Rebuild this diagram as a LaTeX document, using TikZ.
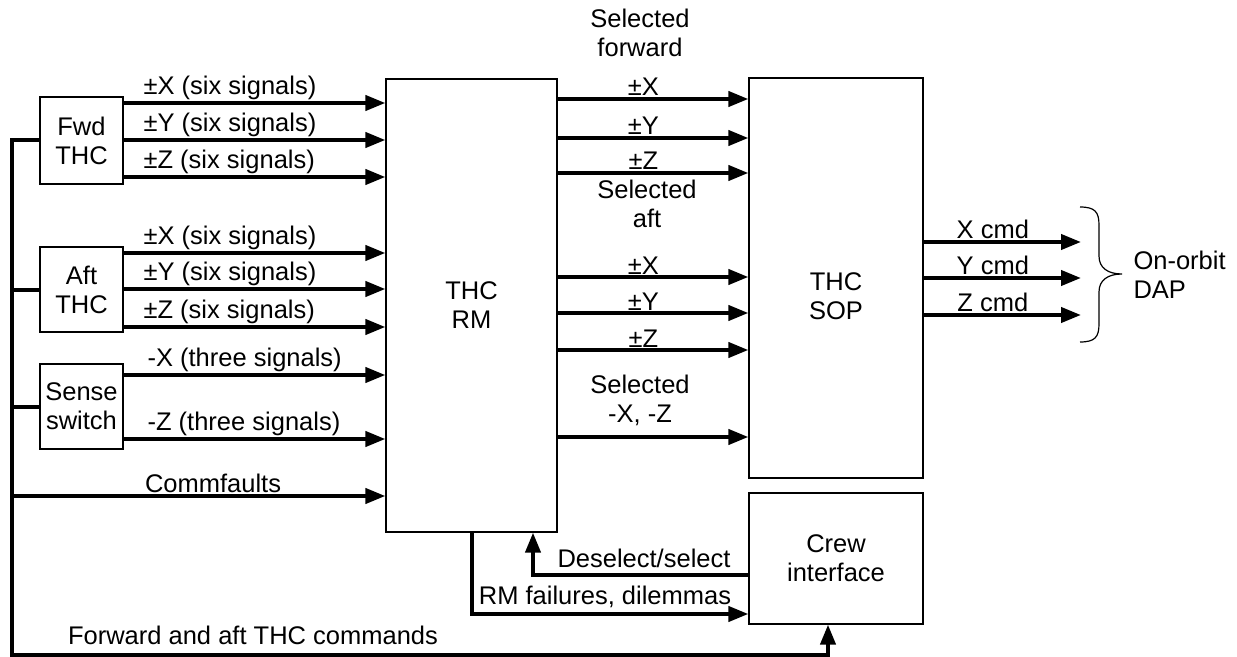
\documentclass[tikz,border=0pt]{standalone}
\usepackage{fontspec}
\setmainfont{Liberation Sans}
\usetikzlibrary{arrows.meta}
\tikzset{
  box/.style={draw, line width=1.2bp, inner sep=0pt, align=center},
  sig/.style={line width=4bp, -{Triangle[length=20bp,width=15bp]}},
  wire/.style={line width=4bp},
  lbl/.style={anchor=south west, inner sep=1bp},
  mid/.style={above, inner sep=1bp},
}
\begin{document}
\begin{tikzpicture}[x=1bp, y=-1bp, font=\fontsize{25.5bp}{29bp}\selectfont]
    \useasboundingbox (0,0) rectangle (1237,657);

    % boxes
    \node[box, minimum width=83bp, minimum height=87bp] (fwd) at (81.5,140.5) {Fwd\\THC};
    \node[box, minimum width=83bp, minimum height=85bp] (aft) at (81.5,289.5) {Aft\\THC};
    \node[box, minimum width=83bp, minimum height=85bp] (sense) at (81.5,406.5) {Sense\\switch};
    \node[box, minimum width=171bp, minimum height=453bp] (rm) at (471.5,305.5) {THC\\RM};
    \node[box, minimum width=174bp, minimum height=400bp] (sop) at (836,278) {};
    \node[align=center] (soptxt) at (836,296) {THC\\SOP};
    \node[box, minimum width=174bp, minimum height=131bp] (crew) at (836,558.5) {Crew\\interface};

    \coordinate (busbot) at (12,655);
    \coordinate (dapin) at (1081,278);

    % controller bus
    \draw[sig] (fwd.west) -| (busbot) -| ([xshift=-8bp]crew.south);
    \draw[wire] (aft.west) -- (aft.west -| busbot);
    \draw[wire] (sense.west) -- (sense.west -| busbot);
    \draw[sig] (busbot |- 0,496) -- node[lbl, at start, xshift=130bp] {Commfaults} (rm.west |- 0,496);
    \node (cmdlbl) at (253,635) {Forward and aft THC commands};

    % inputs to RM
    \foreach \y/\ax in {103/X,140/Y,177/Z}
        \draw[sig] (fwd.east |- 0,\y) -- node[lbl, at start, xshift=17bp] {±\ax{} (six signals)} (rm.west |- 0,\y);
    \foreach \y/\ax in {253/X,289/Y,327/Z}
        \draw[sig] (aft.east |- 0,\y) -- node[lbl, at start, xshift=17bp] {±\ax{} (six signals)} (rm.west |- 0,\y);
    \foreach \y/\ax in {375/X,439/Z}
        \draw[sig] (sense.east |- 0,\y) -- node[lbl, at start, xshift=21bp] {-\ax{} (three signals)} (rm.west |- 0,\y);

    % RM to SOP
    \foreach \y/\ax in {99/X,138/Y,173/Z,277/X,313/Y,350/Z}
        \draw[sig] (rm.east |- 0,\y) -- node[mid, pos=0.45] {±\ax} (sop.west |- 0,\y);
    \draw[sig] (rm.east |- 0,437) -- (sop.west |- 0,437);
    \node[align=center] (selfwd) at (640,33) {Selected\\forward};
    \node[align=center] (selaft) at (647,204) {Selected\\aft};
    \node[align=center] (selxz) at (640,400) {Selected\\-X, -Z};

    % SOP to DAP
    \foreach \y/\ax in {242/X,278/Y,315/Z}
        \draw[sig] (sop.east |- 0,\y) -- node[mid, pos=0.44] {\ax{} cmd} (dapin |- 0,\y);
    \draw[line width=1.2bp] (1080,207) .. controls (1095,207) and (1099,212) .. (1099,225) -- (1099,256)
        .. controls (1099,268) and (1108,274) .. (1122,274)
        .. controls (1108,274) and (1099,280) .. (1099,292) -- (1099,324)
        .. controls (1099,337) and (1095,342) .. (1080,342);
    \node[anchor=west, align=left] (dap) at (1130,275) {On-orbit\\DAP};

    % crew interface
    \draw[sig] (rm.south) |- (crew.west |- 0,614);
    \draw[sig] (crew.west |- 0,575) -| (rm.south -| 533,0);
    \node (rmfail) at (605,597) {RM failures, dilemmas};
    \node (desel) at (644,558) {Deselect/select};
\end{tikzpicture}
\end{document}
